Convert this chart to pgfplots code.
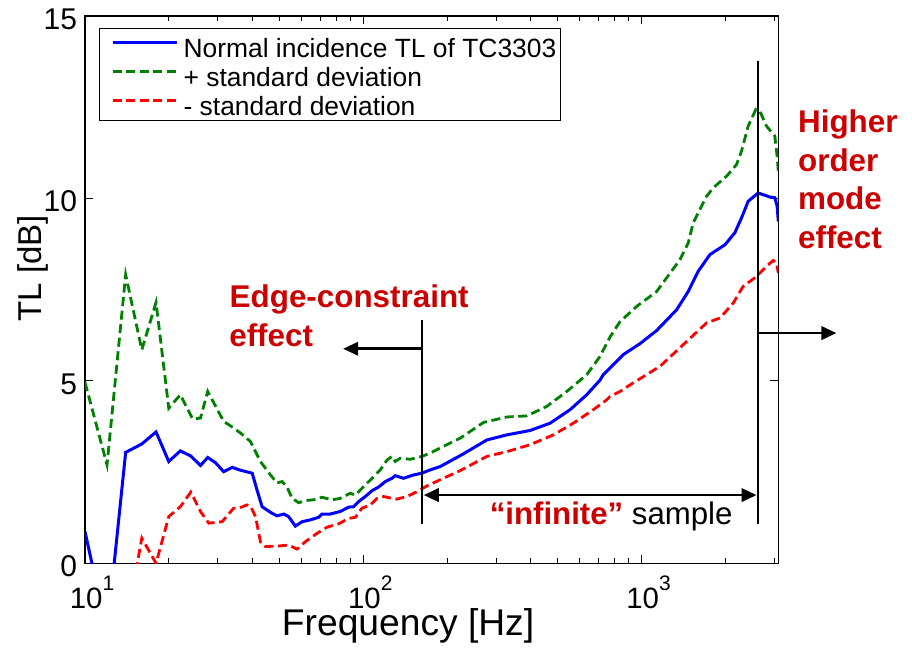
\documentclass[border=0pt]{standalone}
\usepackage{fontspec}
\setmainfont{Liberation Sans}
\usepackage{pgfplots}
\pgfplotsset{compat=1.18}
\usetikzlibrary{arrows.meta}
\definecolor{mblue}{RGB}{0,0,255}
\definecolor{mgreen}{RGB}{0,128,0}
\definecolor{mred}{RGB}{255,0,0}
\definecolor{annred}{RGB}{204,0,0}
\newcommand{\sxp}[1]{\raisebox{9pt}{\fontsize{10.5}{10.5}\selectfont #1}}
\begin{document}
\begin{tikzpicture}
\begin{axis}[
  scale only axis, width=346.65pt, height=273.65pt,
  xmode=log, xmin=10, xmax=3100, ymin=0, ymax=15,
  xtick={10,100,1000},
  xticklabels={10\sxp{1},10\sxp{2},10\sxp{3}},
  minor xtick={20,30,40,50,60,70,80,90,200,300,400,500,600,700,800,900,2000,3000},
  ytick={0,5,10,15},
  tick align=inside, xtick pos=both, ytick pos=both,
  major tick length=4pt, minor tick length=2.5pt,
  axis line style={line width=0.6pt},
  tick style={line width=0.5pt, black},
  clip mode=individual,
  /pgf/number format/assume math mode=true,
  yticklabel style={font=\fontsize{15}{18}\selectfont, inner sep=0pt, xshift=-3.75pt, yshift=-1.5pt},
  xticklabel style={font=\fontsize{14.7}{17}\selectfont, inner sep=0pt, yshift=-6.2pt, xshift=3.5pt},
  xlabel={Frequency [Hz]},
  ylabel={TL [dB]},
  xlabel style={font=\fontsize{18.6}{21}\selectfont, at={(axis description cs:0.466,-0.132)}, anchor=base, inner sep=0pt},
  ylabel style={font=\fontsize{16.5}{20}\selectfont, at={(axis description cs:-0.0625,0.539)}, anchor=base, inner sep=0pt},
  legend style={at={(rel axis cs:0.0202,0.978)}, anchor=north west, draw=black, line width=0.6pt, fill=white,
    font=\fontsize{13.2}{15}\selectfont, inner xsep=2pt, inner ysep=1.2pt, row sep=0pt, column sep=0pt,
    nodes={inner sep=0pt, text height=13pt, text depth=1.5pt}},
  legend cell align=left,
  legend image code/.code={\path[draw=none] (0pt,0pt) -- (40pt,0pt); \draw[#1] (4.5pt,1.5pt) -- (36.5pt,1.5pt);},
]
\addplot[mblue, line width=1.5pt] coordinates {
(10,0.87) (12,-1.9) (14,3.04) (16,3.27) (18,3.60) (20,2.79) (22,3.08) (24,2.94) (26,2.68) (27.6,2.90)
(29.4,2.76) (31.5,2.51) (33.8,2.63) (36.2,2.55) (39.9,2.47) (41.5,2.01) (43.3,1.55) (47.0,1.37) (49.0,1.30)
(51.8,1.35) (53.9,1.28) (57.0,1.02) (60.3,1.14) (64.5,1.19) (69.1,1.26) (71.1,1.35) (76.1,1.35) (82.7,1.42)
(88.6,1.54) (92.3,1.55) (96.2,1.69) (101.7,1.83) (107.5,1.99) (113.5,2.09) (120.0,2.24) (126.8,2.33)
(130.3,2.40) (139.5,2.33) (151.5,2.42) (162.4,2.47) (174.0,2.56) (188.9,2.65) (229.1,3.00) (278.0,3.38)
(328.0,3.52) (397.7,3.64) (469.0,3.84) (553.5,4.21) (635.4,4.62) (709,5.02) (728.6,5.17) (859.7,5.72)
(987,6.02) (1133,6.38) (1337,6.95) (1471,7.45) (1597,8.00) (1760,8.46) (1993,8.73) (2164,9.06) (2287,9.47)
(2415,9.92) (2623,10.15) (2890,10.04) (3012,10.02) (3069,9.79) (3100,9.37)
};
\addlegendentry{Normal incidence TL of TC3303}
\addplot[mgreen, line width=1.4pt, dash pattern=on 4.5pt off 2.3pt] coordinates {
(10,4.96) (12,2.70) (14,7.91) (16,5.85) (18,7.15) (20,4.25) (22,4.62) (24.4,3.95) (26,3.98) (27.6,4.71)
(31.5,3.89) (34.2,3.71) (36.2,3.57) (39.3,3.34) (42.7,2.79) (46.4,2.42) (49.0,2.20) (51.1,2.24) (53.2,2.09)
(55.5,1.78) (58.6,1.66) (61.9,1.72) (66.3,1.74) (71.1,1.81) (77.2,1.74) (82.7,1.78) (89.8,1.92) (93.6,1.87)
(100.2,2.10) (107.5,2.33) (115.1,2.56) (121.7,2.83) (126.8,2.93) (130.3,2.79) (135.8,2.88) (147.5,2.85)
(162.4,2.93) (174.0,3.02) (188.9,3.16) (223.0,3.43) (270.3,3.86) (328.0,4.01) (387.0,4.04) (456.4,4.30)
(538.6,4.71) (635.4,5.17) (709,5.67) (770,6.2) (836,6.62) (960,7.04) (1133,7.45) (1373,8.32) (1471,8.78)
(1533,9.33) (1620,9.70) (1713,10.06) (1809,10.29) (2021,10.61) (2194,10.93) (2287,11.30) (2415,11.98)
(2574,12.44) (2661,12.39) (2812,11.98) (3012,11.71) (3069,11.16) (3100,10.75)
};
\addlegendentry{+ standard deviation}
\addplot[mred, line width=1.4pt, dash pattern=on 4.5pt off 2.3pt] coordinates {
(10,-3.2) (12,-6.5) (14,-1.8) (16,0.69) (18,0.0) (20,1.28) (22,1.55) (24,1.95) (26,1.42) (27.85,1.10)
(31.1,1.14) (34.2,1.51) (35.7,1.51) (38.2,1.60) (39.3,1.57) (41.0,1.28) (42.7,0.59) (44.5,0.46) (49.0,0.47)
(53.9,0.50) (57.8,0.39) (61.9,0.59) (68.2,0.82) (74.1,0.99) (81.5,1.08) (88.6,1.23) (93.6,1.26) (98.9,1.51)
(106.0,1.60) (112.0,1.78) (118.3,1.83) (126.8,1.78) (132.1,1.76) (143.5,1.83) (155.8,1.96) (169.3,2.12)
(188.9,2.29) (223.0,2.54) (278.0,2.93) (328.0,3.06) (397.7,3.25) (482.0,3.52) (568.8,3.84) (670.9,4.21)
(749.3,4.48) (770,4.57) (836.5,4.71) (909,4.89) (1165,5.40) (1411,5.99) (1713,6.59) (1912,6.72)
(2134,7.13) (2317,7.59) (2588,7.86) (2812,8.14) (2970,8.30) (3055,8.23) (3100,7.96)
};
\addlegendentry{- standard deviation}
% annotations
\draw[line width=1pt] (axis cs:162.4,6.68) -- (axis cs:162.4,1.08);
\draw[line width=1.3pt, -{Triangle[length=7.5pt,width=6.7pt]}] (axis cs:162.4,5.88) -- (axis cs:84.7,5.88);
\draw[line width=1.3pt, {Triangle[length=7.5pt,width=6.7pt]}-{Triangle[length=7.5pt,width=6.7pt]}] (axis cs:165,1.87) -- (axis cs:2588,1.87);
\draw[line width=1pt] (axis cs:2623,13.78) -- (axis cs:2623,1.07);
\draw[line width=1.3pt, -{Triangle[length=7.5pt,width=6.7pt]}] (axis cs:2623,6.31) -- (axis cs:5012,6.31);
\node[anchor=base west, inner sep=0pt, text=annred, font=\fontsize{15.7}{19}\selectfont\bfseries] at (axis cs:33.0,7.0) {Edge-constraint};
\node[anchor=base west, inner sep=0pt, text=annred, font=\fontsize{15.7}{19}\selectfont\bfseries] at (axis cs:32.9,5.94) {effect};
\node[anchor=base west, inner sep=0pt, text=annred, font=\fontsize{15.7}{19}\selectfont\bfseries] at (axis cs:3640,11.80) {Higher};
\node[anchor=base west, inner sep=0pt, text=annred, font=\fontsize{15.7}{19}\selectfont\bfseries] at (axis cs:3640,10.75) {order};
\node[anchor=base west, inner sep=0pt, text=annred, font=\fontsize{15.7}{19}\selectfont\bfseries] at (axis cs:3640,9.70) {mode};
\node[anchor=base west, inner sep=0pt, text=annred, font=\fontsize{15.7}{19}\selectfont\bfseries] at (axis cs:3640,8.64) {effect};
\node[anchor=base west, inner sep=0pt, font=\fontsize{15.6}{19}\selectfont] at (axis cs:284,1.05) {\textcolor{annred}{\bfseries “infinite”} sample};
\end{axis}
\pgfresetboundingbox
\path (-42.5pt,-42.35pt) rectangle (413.5pt,281.65pt);
\end{tikzpicture}
\end{document}
